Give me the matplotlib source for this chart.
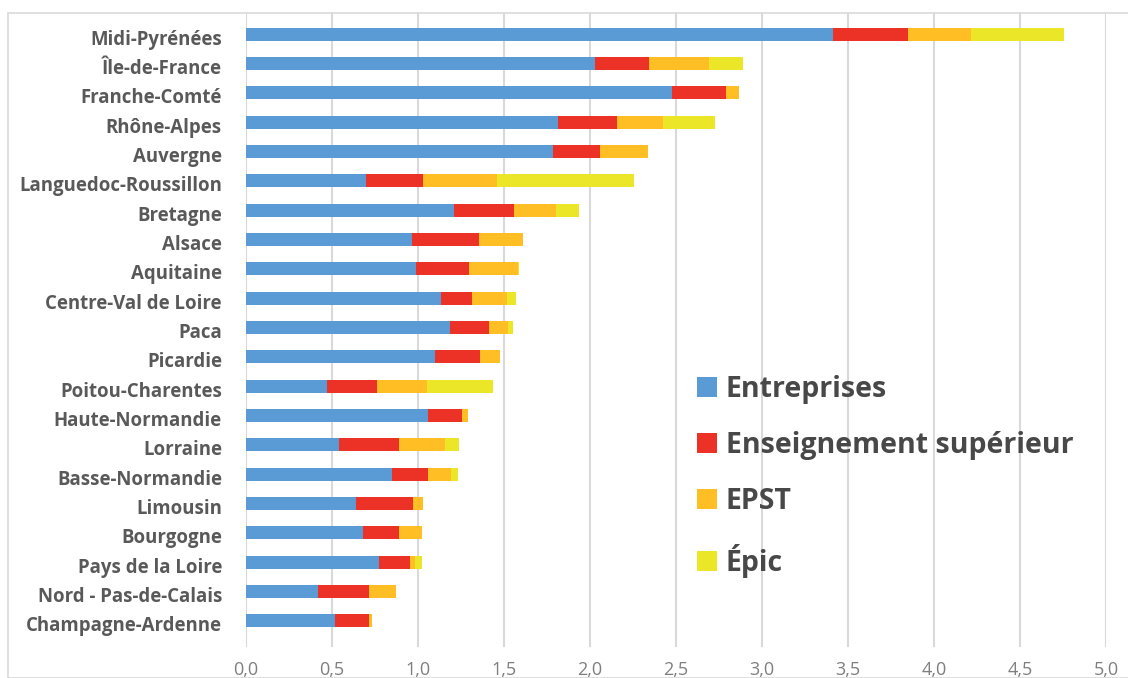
import matplotlib
matplotlib.use("Agg")
import matplotlib.pyplot as plt
from matplotlib.patches import Rectangle
from matplotlib.ticker import FuncFormatter
import numpy as np

regions = ["Midi-Pyrénées", "Île-de-France", "Franche-Comté", "Rhône-Alpes", "Auvergne",
           "Languedoc-Roussillon", "Bretagne", "Alsace", "Aquitaine", "Centre-Val de Loire",
           "Paca", "Picardie", "Poitou-Charentes", "Haute-Normandie", "Lorraine",
           "Basse-Normandie", "Limousin", "Bourgogne", "Pays de la Loire",
           "Nord - Pas-de-Calais", "Champagne-Ardenne"]

entreprises = [3.415, 2.029, 2.475, 1.812, 1.787, 0.698, 1.209, 0.967, 0.987, 1.134,
               1.186, 1.099, 0.473, 1.056, 0.541, 0.847, 0.638, 0.682, 0.775, 0.419, 0.517]
enseignement = [0.436, 0.316, 0.314, 0.343, 0.271, 0.331, 0.351, 0.386, 0.311, 0.182,
                0.227, 0.261, 0.287, 0.202, 0.349, 0.209, 0.331, 0.209, 0.178, 0.298, 0.200]
epst = [0.362, 0.347, 0.075, 0.271, 0.277, 0.432, 0.240, 0.257, 0.285, 0.200,
        0.112, 0.119, 0.294, 0.031, 0.267, 0.136, 0.058, 0.130, 0.030, 0.155, 0.016]
epic = [0.543, 0.199, 0.0, 0.301, 0.0, 0.797, 0.134, 0.0, 0.005, 0.054,
        0.025, 0.0, 0.384, 0.0, 0.081, 0.039, 0.0, 0.0, 0.038, 0.0, 0.0]

series_names = ["Entreprises", "Enseignement supérieur", "EPST", "Épic"]
colors = ["#5B9BD5", "#EC3127", "#FFBF24", "#ECE628"]
xticks = [0.0, 0.5, 1.0, 1.5, 2.0, 2.5, 3.0, 3.5, 4.0, 4.5, 5.0]

plt.rcParams['font.family'] = ['Open Sans', 'DejaVu Sans']

fig = plt.figure(figsize=(11.28, 6.78), dpi=100)
W, H = 1128, 678
ax_top, ax_bot = 13, 647
ax = fig.add_axes([246 / W, 1 - ax_bot / H, (1106 - 246) / W, (ax_bot - ax_top) / H])

y = np.arange(len(regions))
left = np.zeros(len(regions))
for vals, name, c in zip([entreprises, enseignement, epst, epic], series_names, colors):
    ax.barh(y, vals, left=left, height=0.45, color=c, label=name, zorder=3)
    left = left + np.array(vals)

ax.set_ylim(20.89, -0.72)
ax.set_xlim(0, 5)
ax.set_yticks(y)
ax.set_yticklabels([])
# category labels, slightly below the bar centre as in the reference
for yi, name in zip(y, regions):
    ax.annotate(name, xy=(0, yi), xycoords=('axes fraction', 'data'),
                xytext=(-17.3, -2.2), textcoords='offset points',
                ha='right', va='center_baseline', fontsize=13.4,
                fontweight='bold', color='#595959', annotation_clip=False)

ax.set_xticks(xticks)
ax.xaxis.set_major_formatter(FuncFormatter(lambda v, p: f"{v:.1f}".replace('.', ',')))
for lab in ax.get_xticklabels():
    lab.set_fontsize(13)
    lab.set_color('#7F7F7F')
ax.tick_params(axis='both', length=0)
ax.tick_params(axis='x', pad=10)
ax.grid(axis='x', color='#D9D9D9', linewidth=1.5, zorder=0)
for s in ax.spines.values():
    s.set_visible(False)

leg = ax.legend(loc='upper left',
                bbox_to_anchor=((671 - 246) / (1106 - 246), (ax_bot - 349) / (ax_bot - ax_top)),
                frameon=False, fontsize=20.5, handlelength=0.7, handleheight=0.7,
                handletextpad=0.32, labelspacing=0.96)
for t in leg.get_texts():
    t.set_fontweight('bold')
    t.set_color('#484848')

fig.patches.append(Rectangle((8 / W, 0), 1.2, 1 - 13 / H, transform=fig.transFigure,
                             fill=False, edgecolor='#D9D9D9', linewidth=1.2))

fig.savefig("out.png", dpi=100)
